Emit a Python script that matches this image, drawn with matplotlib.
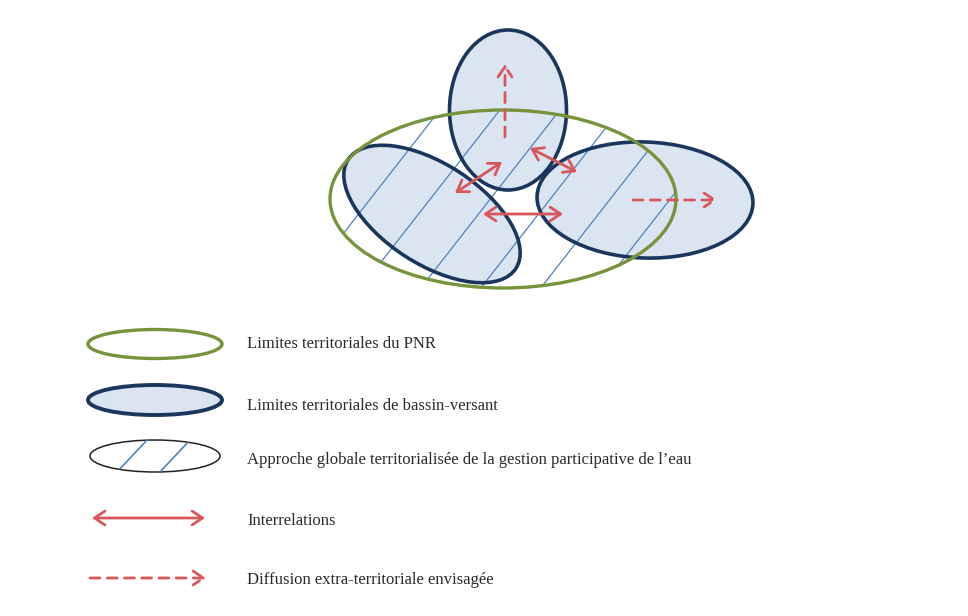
import numpy as np
import matplotlib
matplotlib.use("Agg")
import matplotlib.pyplot as plt
from matplotlib.patches import Ellipse

# Diagram geometry (pixel space, y down)
pnr = dict(center=(503, 199), width=346, height=178, angle=0)
basins = [
    dict(center=(508, 110), width=117, height=160, angle=0),
    dict(center=(432, 214), width=200, height=100, angle=33),
    dict(center=(645, 200), width=216, height=116, angle=2),
]
interrelations = [((455, 193), (502, 162)), ((530, 148), (577, 172)), ((483, 214), (563, 214))]
diffusions = [((505, 137), (505, 64)), ((633, 200), (717, 200))]

legend_labels = [
    "Limites territoriales du PNR",
    "Limites territoriales de bassin-versant",
    "Approche globale territorialisée de la gestion participative de l\u2019eau",
    "Interrelations",
    "Diffusion extra-territoriale envisagée",
]
legend_y = [344, 406, 460, 521, 580]

GREEN = "#77933c"
NAVY = "#1b365d"
FILL = "#dbe5f1"
HATCH = "#4f81bd"
RED = "#d9575a"

DOUBLE = "<->,head_length=0.75,head_width=0.5"
SINGLE = "->,head_length=0.75,head_width=0.5"
DASH = (0, (3.6, 2.6))

fig = plt.figure(figsize=(9.68, 6.16), dpi=100)
ax = fig.add_axes([0, 0, 1, 1])
ax.set_xlim(0, 968)
ax.set_ylim(616, 0)
ax.axis("off")

# basin fills
for b in basins:
    ax.add_patch(Ellipse(b["center"], b["width"], b["height"], angle=b["angle"],
                         facecolor=FILL, edgecolor="none", zorder=1))

# hatching clipped to the PNR ellipse
clip = Ellipse(pnr["center"], pnr["width"], pnr["height"], angle=pnr["angle"],
               facecolor="none", edgecolor="none")
ax.add_patch(clip)
slope = np.tan(np.radians(52))
for k in range(-8, 8):
    x0 = 487 + 60 * k
    ys = np.array([300, 90])
    xs = x0 + (280 - ys) / slope
    ln, = ax.plot(xs, ys, color=HATCH, lw=0.9, zorder=2)
    ln.set_clip_path(clip)

for b in basins:
    ax.add_patch(Ellipse(b["center"], b["width"], b["height"], angle=b["angle"],
                         facecolor="none", edgecolor=NAVY, lw=2.6, zorder=3))
ax.add_patch(Ellipse(pnr["center"], pnr["width"], pnr["height"], angle=pnr["angle"],
                     facecolor="none", edgecolor=GREEN, lw=2.4, zorder=3))

for p0, p1 in interrelations:
    ax.annotate("", xy=p1, xytext=p0, zorder=4,
                arrowprops=dict(arrowstyle=DOUBLE, color=RED, lw=2,
                                shrinkA=0, shrinkB=0))
for p0, p1 in diffusions:
    ax.annotate("", xy=p1, xytext=p0, zorder=4,
                arrowprops=dict(arrowstyle=SINGLE, color=RED, lw=2, ls=DASH,
                                shrinkA=0, shrinkB=0))

# legend
ax.add_patch(Ellipse((155, 344), 134, 29, facecolor="none", edgecolor=GREEN, lw=2.4))
ax.add_patch(Ellipse((155, 400), 134, 30, facecolor=FILL, edgecolor=NAVY, lw=2.8))
leg = Ellipse((155, 456), 130, 32, facecolor="none", edgecolor="#222222", lw=1.1)
ax.add_patch(leg)
for x0 in [115, 158]:
    ln, = ax.plot([x0, x0 + 34], [474, 438], color=HATCH, lw=1.2)
    ln.set_clip_path(leg)
ax.annotate("", xy=(205, 518), xytext=(92, 518),
            arrowprops=dict(arrowstyle=DOUBLE, color=RED, lw=2, shrinkA=0, shrinkB=0))
ax.annotate("", xy=(206, 578), xytext=(90, 578),
            arrowprops=dict(arrowstyle=SINGLE, color=RED, lw=2, ls=DASH,
                            shrinkA=0, shrinkB=0))

for label, y in zip(legend_labels, legend_y):
    ax.text(247, y, label, fontsize=12, family="Liberation Serif",
            color="#2b2b2b", va="center", ha="left")

fig.savefig("out.png", dpi=100, facecolor="white")
